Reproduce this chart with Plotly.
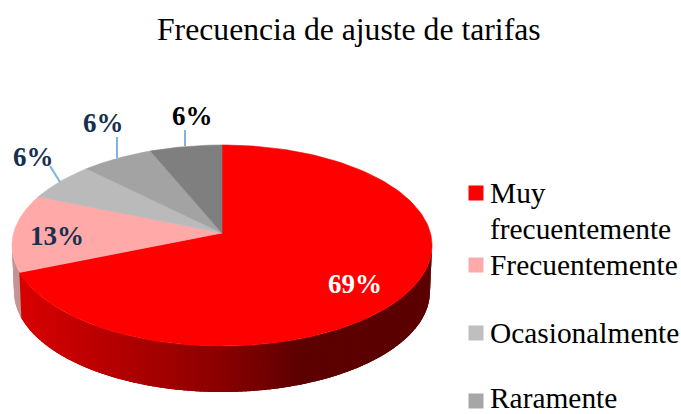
import numpy as np
import plotly.graph_objects as go

# encuesta: 16 respuestas
categorias = ["Muy\nfrecuentemente", "Frecuentemente", "Ocasionalmente", "Raramente", ""]
respuestas = [11, 2, 1, 1, 1]
etiquetas = ["69%", "13%", "6%", "6%", "6%"]

colores = ["#FF0000", "#FFA9A9", "#BABABA", "#A3A3A3", "#7F7F7F"]
colores_leyenda = ["#FF0000", "#FFAAAA", "#BFBFBF", "#A6A6A6"]

# geometria del pastel en perspectiva (pixeles de la pagina)
CX, CY = 222, 233
R, K, A = 208.4, 0.1244, -69.96
PROF = 46


def borde(t):
    v = np.cos(t)
    d = 1 + K * v
    return CX + R * np.sin(t) / d, (CY + A * v) / d


def rojo_pared(x):
    return int(np.interp(x, [20, 120, 220, 300], [216, 178, 138, 92]))


def poligono(xs, ys, color, ancho=0.6):
    return go.Scatter(x=xs, y=ys, mode="lines", fill="toself", fillcolor=color,
                      line=dict(color=color, width=ancho), hoverinfo="skip", showlegend=False)


fig = go.Figure()

limites = np.cumsum([0] + respuestas) / sum(respuestas) * 2 * np.pi

# pared lateral: de derecha a izquierda, cada tramo pisa un poco al anterior
pasos = np.radians(np.arange(96, 264, 1.0))
for t0, t1 in zip(pasos[:-1], pasos[1:]):
    tt = np.linspace(t0, t1 + np.radians(1.5), 3)
    x, y = borde(tt)
    xm = x.mean()
    if t0 < limites[1]:
        color = f"rgb({rojo_pared(xm)},0,0)"
    else:
        color = "#C49494"
    xb = CX + (x - CX) * 0.99
    fig.add_trace(poligono(list(x) + list(xb[::-1]), list(y) + list((y + PROF)[::-1]), color, 0))

# cara superior
for i in range(len(respuestas)):
    tt = np.linspace(limites[i], limites[i + 1], 160)
    x, y = borde(tt)
    fig.add_trace(poligono([CX] + list(x) + [CX], [CY] + list(y) + [CY], colores[i]))

# guias de las etiquetas
guias = [((50, 166), (60, 182)), ((117, 137), (117, 158)), ((185, 130), (185, 146))]
shapes = [dict(type="line", xref="x", yref="y", x0=a[0], y0=a[1], x1=b[0], y1=b[1],
               line=dict(color="#7FB4E2", width=2)) for a, b in guias]

# etiquetas de porcentaje
pos_etiquetas = [(355, 284), (57, 236), (33, 157), (103, 123), (192, 116)]
color_etiquetas = ["white", "#17304F", "#17304F", "#17304F", "#000000"]
annotations = []
for txt, (x, y), c in zip(etiquetas, pos_etiquetas, color_etiquetas):
    annotations.append(dict(x=x, y=y, xref="x", yref="y", text=f"<b>{txt}</b>", showarrow=False,
                            font=dict(family="Liberation Serif", size=27, color=c)))

# leyenda a mano: el espaciado del original no sale con la leyenda de plotly
y_leyenda = [193, 265, 333, 401]
y_texto = [193, 265, 333, 398]
for cat, col, yl, yt in zip(categorias, colores_leyenda, y_leyenda, y_texto):
    fig.add_trace(go.Scatter(x=[476], y=[yl], mode="markers", hoverinfo="skip", showlegend=False,
                             marker=dict(symbol="square", size=15, color=col)))
    for j, linea in enumerate(cat.split("\n")):
        if linea:
            annotations.append(dict(x=488, y=yt + j * 36, xref="x", yref="y", text=linea, xanchor="left",
                                    showarrow=False, font=dict(family="Liberation Serif", size=29.4, color="black")))

annotations.append(dict(x=349, y=29, xref="x", yref="y", text="Frecuencia de ajuste de tarifas",
                        showarrow=False, font=dict(family="Liberation Serif", size=31.7, color="black")))

fig.update_layout(
    width=681,
    height=414,
    margin=dict(l=0, r=0, t=0, b=0),
    paper_bgcolor="white",
    plot_bgcolor="white",
    xaxis=dict(range=[0, 681], visible=False),
    yaxis=dict(range=[414, 0], visible=False),
    shapes=shapes,
    annotations=annotations,
)
fig.write_html("out.html", config=dict(displayModeBar=False),
               post_script="document.body.style.margin='0';document.body.style.overflow='hidden';")
